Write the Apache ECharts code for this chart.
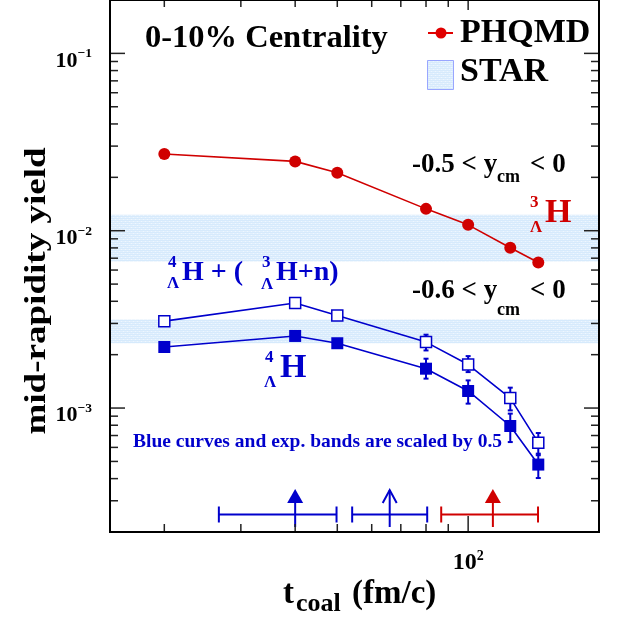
<!DOCTYPE html>
<html><head><meta charset="utf-8">
<script src="https://cdn.jsdelivr.net/npm/echarts@6/dist/echarts.min.js"></script>
<style>html,body{margin:0;padding:0;background:#fff}#c{width:618px;height:642px}</style>
</head><body><div id="c"></div>
<script>
// ---------------- data ----------------
const tcoal = [20, 40, 50, 80, 100, 125, 145];
const phqmdH3 = [0.0271, 0.0246, 0.0212, 0.01328, 0.01079, 0.00801, 0.00662];
const h4plusH3n = [0.00309, 0.00391, 0.00333, 0.002355, 0.00176, 0.001138, 0.000638];
const h4 = [0.00221, 0.00255, 0.00232, 0.001667, 0.001248, 0.000792, 0.00048];
const errT = [80, 100, 125, 145];
const h4plusErrLo = [0.002113, 0.001595, 0.000970, 0.000542];
const h4plusErrHi = [0.002592, 0.001963, 0.001303, 0.000723];
const h4ErrLo = [0.001465, 0.001059, 0.000643, 0.000403];
const h4ErrHi = [0.001898, 0.001432, 0.000930, 0.000553];
const starBandLo = [0.0067, 0.00232];
const starBandHi = [0.0123, 0.00316];
const arrowCenter = [40, 66, 114];
const arrowLo = [26.7, 54.1, 86.7];
const arrowHi = [49.8, 80.5, 144.8];
const xMajorTicks = [100];
const xMinorTicks = [20, 30, 40, 50, 60, 70, 80, 90];
const yMajorTicks = [0.001, 0.01, 0.1];
const yMinorTicks = [0.0003, 0.0004, 0.0005, 0.0006, 0.0007, 0.0008, 0.0009,
  0.002, 0.003, 0.004, 0.005, 0.006, 0.007, 0.008, 0.009,
  0.02, 0.03, 0.04, 0.05, 0.06, 0.07, 0.08, 0.09];

// ---------------- style ----------------
const RED = '#d00000', BLUE = '#0000cc';
const FF = '"Liberation Serif", "Times New Roman", serif';
const arrowColors = [BLUE, BLUE, RED];
const arrowOpen = [false, true, false];

function makePattern() {
  const c = document.createElement('canvas'); c.width = 4; c.height = 4;
  const g = c.getContext('2d');
  g.fillStyle = '#d6eafc'; g.fillRect(0, 0, 4, 4);
  g.fillStyle = '#e2f0fd'; g.fillRect(0, 1, 4, 1); g.fillRect(0, 3, 4, 1);
  g.fillStyle = '#eef7ff'; g.fillRect(1, 1, 1, 1); g.fillRect(3, 3, 1, 1);
  return c;
}
const pat = { image: makePattern(), repeat: 'repeat' };

function txt(x, base, s, fs, color, align) {
  return { type: 'text', x: x, y: base - 0.3 * fs, z: 50,
    style: { text: s, fontSize: fs, fontWeight: 'bold', fontFamily: FF, fill: color,
      align: align || 'left', textAlign: align || 'left', verticalAlign: 'middle', textVerticalAlign: 'middle' } };
}

const chart = echarts.init(document.getElementById('c'), null, { renderer: 'canvas' });

function supLabel(v) {
  const e = Math.round(Math.log10(v));
  if (Math.abs(v / Math.pow(10, e) - 1) > 1e-6) return '';
  return '{b|10}{s|' + (e < 0 ? '\u2212' : '') + Math.abs(e) + '}';
}
const richLab = {
  b: { fontSize: 22, fontWeight: 'bold', fontFamily: FF, color: '#000', lineHeight: 25, verticalAlign: 'bottom' },
  s: { fontSize: 13.5, fontWeight: 'bold', fontFamily: FF, color: '#000', lineHeight: 15, verticalAlign: 'top' }
};

function renderBand(params, api) {
  const cs = params.coordSys;
  const y1 = api.coord([100, api.value(1)])[1];
  const y2 = api.coord([100, api.value(0)])[1];
  return { type: 'rect', shape: { x: cs.x + 1, y: y1, width: cs.width - 2, height: y2 - y1 },
    style: { fill: pat } };
}
function makeErr(color) {
  return function (params, api) {
    const x = api.value(0);
    const p1 = api.coord([x, api.value(2)]), p2 = api.coord([x, api.value(1)]);
    const c = 2.5, st = { stroke: color, lineWidth: 2 };
    return { type: 'group', children: [
      { type: 'line', shape: { x1: p1[0], y1: p1[1], x2: p2[0], y2: p2[1] }, style: st },
      { type: 'line', shape: { x1: p1[0] - c, y1: p1[1], x2: p1[0] + c, y2: p1[1] }, style: st },
      { type: 'line', shape: { x1: p2[0] - c, y1: p2[1], x2: p2[0] + c, y2: p2[1] }, style: st }
    ] };
  };
}
function renderArrow(params, api) {
  const cs = params.coordSys, i = params.dataIndex;
  const yb = cs.y + cs.height;
  const xc = api.coord([api.value(0), 0.001])[0];
  const xl = api.coord([api.value(1), 0.001])[0];
  const xh = api.coord([api.value(2), 0.001])[0];
  const col = arrowColors[i];
  const st = { stroke: col, lineWidth: 2, fill: 'none' };
  const by = yb - 17.5;
  const ch = [
    { type: 'line', shape: { x1: xl, y1: by, x2: xh, y2: by }, style: st },
    { type: 'line', shape: { x1: xl, y1: by - 8, x2: xl, y2: by + 8 }, style: st },
    { type: 'line', shape: { x1: xh, y1: by - 8, x2: xh, y2: by + 8 }, style: st }
  ];
  if (arrowOpen[i]) {
    ch.push({ type: 'line', shape: { x1: xc, y1: yb - 5, x2: xc, y2: yb - 42 }, style: st });
    ch.push({ type: 'polyline', shape: { points: [[xc - 7, yb - 29], [xc, yb - 42], [xc + 7, yb - 29]] }, style: st });
  } else {
    ch.push({ type: 'line', shape: { x1: xc, y1: yb - 5, x2: xc, y2: yb - 30 }, style: st });
    ch.push({ type: 'polygon', shape: { points: [[xc - 8, yb - 29], [xc, yb - 43], [xc + 8, yb - 29]] }, style: { fill: col } });
  }
  return { type: 'group', children: ch };
}
function renderYTick(params, api) {
  const cs = params.coordSys;
  const y = api.coord([100, api.value(1)])[1];
  const len = api.value(2) ? 15 : 8;
  const st = { stroke: '#222', lineWidth: 1.5 };
  return { type: 'group', children: [
    { type: 'line', shape: { x1: cs.x, y1: y, x2: cs.x + len, y2: y }, style: st },
    { type: 'line', shape: { x1: cs.x + cs.width - len, y1: y, x2: cs.x + cs.width, y2: y }, style: st }
  ] };
}
function renderXTick(params, api) {
  const cs = params.coordSys;
  const x = api.coord([api.value(0), 0.001])[0];
  const len = api.value(2) ? 16 : 8;
  const st = { stroke: '#222', lineWidth: 1.5 };
  return { type: 'group', children: [
    { type: 'line', shape: { x1: x, y1: cs.y + cs.height, x2: x, y2: cs.y + cs.height - len }, style: st },
    { type: 'line', shape: { x1: x, y1: cs.y, x2: x, y2: cs.y + (api.value(2) ? 10 : 7) }, style: st }
  ] };
}

const option = {
  animation: false,
  backgroundColor: '#fff',
  grid: { left: 110, top: 0, width: 489, height: 532, show: false },
  xAxis: {
    type: 'log', logBase: 10, min: 15, max: 200,
    axisLine: { show: false }, axisTick: { show: false }, splitLine: { show: false },
    axisLabel: { margin: 17, formatter: supLabel, rich: {
      b: { fontSize: 24, fontWeight: 'bold', fontFamily: FF, color: '#000', lineHeight: 26, verticalAlign: 'bottom' },
      s: { fontSize: 14, fontWeight: 'bold', fontFamily: FF, color: '#000', lineHeight: 15, verticalAlign: 'top' } } }
  },
  yAxis: {
    type: 'log', logBase: 10, min: 0.0002, max: 0.2,
    axisLine: { show: false }, axisTick: { show: false }, splitLine: { show: false },
    axisLabel: { margin: 18, formatter: supLabel, rich: richLab, padding: [12, 0, 0, 0] }
  },
  series: [
    { type: 'custom', name: 'STAR', z: 1, clip: false, renderItem: renderBand, encode: { x: 2, y: [0, 1] },
      data: starBandLo.map((lo, i) => [lo, starBandHi[i], 100]) },
    { type: 'custom', z: 3, renderItem: makeErr(BLUE), encode: { x: 0, y: [1, 2] },
      data: errT.map((t, i) => [t, h4plusErrLo[i], h4plusErrHi[i]]) },
    { type: 'custom', z: 3, renderItem: makeErr(BLUE), encode: { x: 0, y: [1, 2] },
      data: errT.map((t, i) => [t, h4ErrLo[i], h4ErrHi[i]]) },
    { type: 'line', name: 'PHQMD', z: 4, data: tcoal.map((t, i) => [t, phqmdH3[i]]),
      symbol: 'circle', symbolSize: 12, itemStyle: { color: RED }, lineStyle: { color: RED, width: 1.6 } },
    { type: 'line', z: 4, data: tcoal.map((t, i) => [t, h4plusH3n[i]]),
      symbol: 'rect', symbolSize: 11, itemStyle: { color: '#fff', borderColor: BLUE, borderWidth: 1.5 },
      lineStyle: { color: BLUE, width: 1.6 } },
    { type: 'line', z: 4, data: tcoal.map((t, i) => [t, h4[i]]),
      symbol: 'rect', symbolSize: 12, itemStyle: { color: BLUE }, lineStyle: { color: BLUE, width: 1.6 } },
    { type: 'custom', z: 4, renderItem: renderArrow, encode: { x: [0, 1, 2] },
      data: arrowCenter.map((c, i) => [c, arrowLo[i], arrowHi[i]]) },
    { type: 'custom', z: 5, renderItem: renderYTick, encode: { x: 0, y: 1 },
      data: yMajorTicks.map(v => [100, v, 1]).concat(yMinorTicks.map(v => [100, v, 0])) },
    { type: 'custom', z: 5, renderItem: renderXTick, encode: { x: 0, y: 1 },
      data: xMajorTicks.map(v => [v, 0.001, 1]).concat(xMinorTicks.map(v => [v, 0.001, 0])) }
  ],
  graphic: [
    { type: 'rect', z: 60, shape: { x: 110, y: 0, width: 489, height: 532 },
      style: { fill: 'none', stroke: '#000', lineWidth: 2 } },
    // legend
    { type: 'line', z: 50, shape: { x1: 428, y1: 33, x2: 453, y2: 33 }, style: { stroke: '#e00000', lineWidth: 2 } },
    { type: 'circle', z: 50, shape: { cx: 441, cy: 33, r: 5.5 }, style: { fill: '#e00000' } },
    { type: 'rect', z: 50, shape: { x: 427.5, y: 60.5, width: 26, height: 29 }, style: { fill: pat, stroke: '#99a6ff', lineWidth: 1 } },
    txt(460, 43, 'PHQMD', 34, '#000'),
    txt(460, 82, 'STAR', 34, '#000'),
    txt(145, 48, '0-10% Centrality', 32.5, '#000'),
    // rapidity windows
    txt(412, 173, '-0.5 < y', 27, '#000'),
    txt(497, 183, 'cm', 18, '#000'),
    txt(530, 173, '< 0', 27, '#000'),
    txt(412, 299, '-0.6 < y', 27, '#000'),
    txt(497, 316, 'cm', 18, '#000'),
    txt(530, 299, '< 0', 27, '#000'),
    // 3ΛH label
    txt(530, 208, '3', 17, RED),
    txt(530, 233, '\u039B', 17, RED),
    txt(545, 223, 'H', 34, RED),
    // 4ΛH + (3ΛH+n)
    txt(168, 268, '4', 17, BLUE),
    txt(167, 289, '\u039B', 17, BLUE),
    txt(182, 281, 'H + (', 28, BLUE),
    txt(262, 268, '3', 17, BLUE),
    txt(261, 290, '\u039B', 17, BLUE),
    txt(276, 281, 'H+n)', 28, BLUE),
    // 4ΛH
    txt(265, 363, '4', 17, BLUE),
    txt(264, 388, '\u039B', 17, BLUE),
    txt(280, 378, 'H', 34, BLUE),
    txt(133, 448, 'Blue curves and exp. bands are scaled by 0.5', 19.5, BLUE),
    // axis titles
    { type: 'text', x: 38, y: 291, rotation: Math.PI / 2, scaleX: 1.09, scaleY: 0.85, z: 50,
      style: { text: 'mid-rapidity yield', fontSize: 34, fontWeight: 'bold', fontFamily: FF, fill: '#000',
        align: 'center', textAlign: 'center', verticalAlign: 'middle', textVerticalAlign: 'middle' } },
    txt(283, 604, 't', 33, '#000'),
    txt(296, 612, 'coal', 26, '#000'),
    txt(352, 604, '(fm/c)', 33, '#000')
  ]
};
chart.setOption(option);
</script>
</body></html>
